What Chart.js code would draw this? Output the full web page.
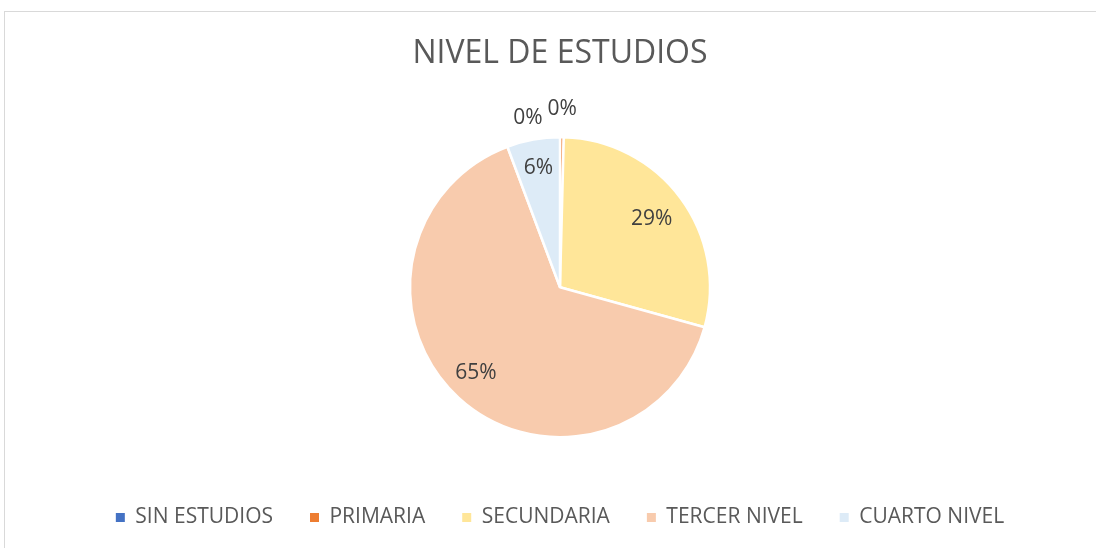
<!DOCTYPE html>
<html>
<head>
<meta charset="utf-8">
<script src="https://cdn.jsdelivr.net/npm/chart.js@4"></script>
<style>
    html, body { margin: 0; padding: 0; background: #fff; overflow: hidden; width: 1096px; height: 548px; }
    .frame { position: absolute; left: 4px; top: 11px; width: 1110px; height: 600px; border: 1px solid #d9d9d9; }
    canvas { display: block; }
</style>
</head>
<body>
<div class="frame">
    <canvas id="pieChart" width="1110" height="526"></canvas>
</div>
<script>
const categories = ['SIN ESTUDIOS', 'PRIMARIA', 'SECUNDARIA', 'TERCER NIVEL', 'CUARTO NIVEL'];
const shares = [0, 0.4, 28.9, 65.0, 5.7];
const shownLabels = ['0%', '0%', '29%', '65%', '6%'];
const sliceColors = ['#4472C4', '#ED7D31', '#FFE699', '#F8CBAD', '#DDEBF7'];

// label placement: fraction of radius, plus a nudge for the empty slices sitting outside the pie
const labelRadius = [1.13, 1.19, 0.76, 0.8, 0.81];
const labelNudge = [[-32, 0], [0, 0], [0, 0], [-3, -3], [0, 0]];

const pieLabels = {
    id: 'pieLabels',
    afterDatasetsDraw(chart) {
        const ctx = chart.ctx;
        const arcs = chart.getDatasetMeta(0).data;
        ctx.save();
        ctx.font = '21px "Open Sans", sans-serif';
        ctx.fillStyle = '#404040';
        ctx.textAlign = 'center';
        ctx.textBaseline = 'middle';
        arcs.forEach((arc, i) => {
            const mid = (arc.startAngle + arc.endAngle) / 2;
            const r = arc.outerRadius * labelRadius[i];
            const x = arc.x + Math.cos(mid) * r + labelNudge[i][0];
            const y = arc.y + Math.sin(mid) * r + labelNudge[i][1];
            ctx.fillText(shownLabels[i], x, y);
        });
        ctx.restore();
    }
};

new Chart(document.getElementById('pieChart').getContext('2d'), {
    type: 'pie',
    data: {
        labels: categories,
        datasets: [{
            data: shares,
            backgroundColor: sliceColors,
            borderColor: '#ffffff',
            borderWidth: 2.5,
            radius: 150
        }]
    },
    options: {
        responsive: false,
        animation: false,
        plugins: {
            title: {
                display: true,
                text: 'NIVEL DE ESTUDIOS',
                color: '#595959',
                font: { family: 'Open Sans', size: 32, weight: 'normal' },
                padding: { top: 23, bottom: 31 }
            },
            legend: {
                position: 'bottom',
                labels: {
                    color: '#595959',
                    font: { family: 'Open Sans', size: 21 },
                    boxWidth: 9,
                    boxHeight: 9,
                    padding: 37,
                    generateLabels(chart) {
                        // plain filled squares, no white outline
                        return Chart.overrides.pie.plugins.legend.labels.generateLabels(chart)
                            .map(item => ({ ...item, lineWidth: 0, strokeStyle: item.fillStyle }));
                    }
                }
            },
            tooltip: { enabled: false }
        }
    },
    plugins: [pieLabels]
});
</script>
</body>
</html>
